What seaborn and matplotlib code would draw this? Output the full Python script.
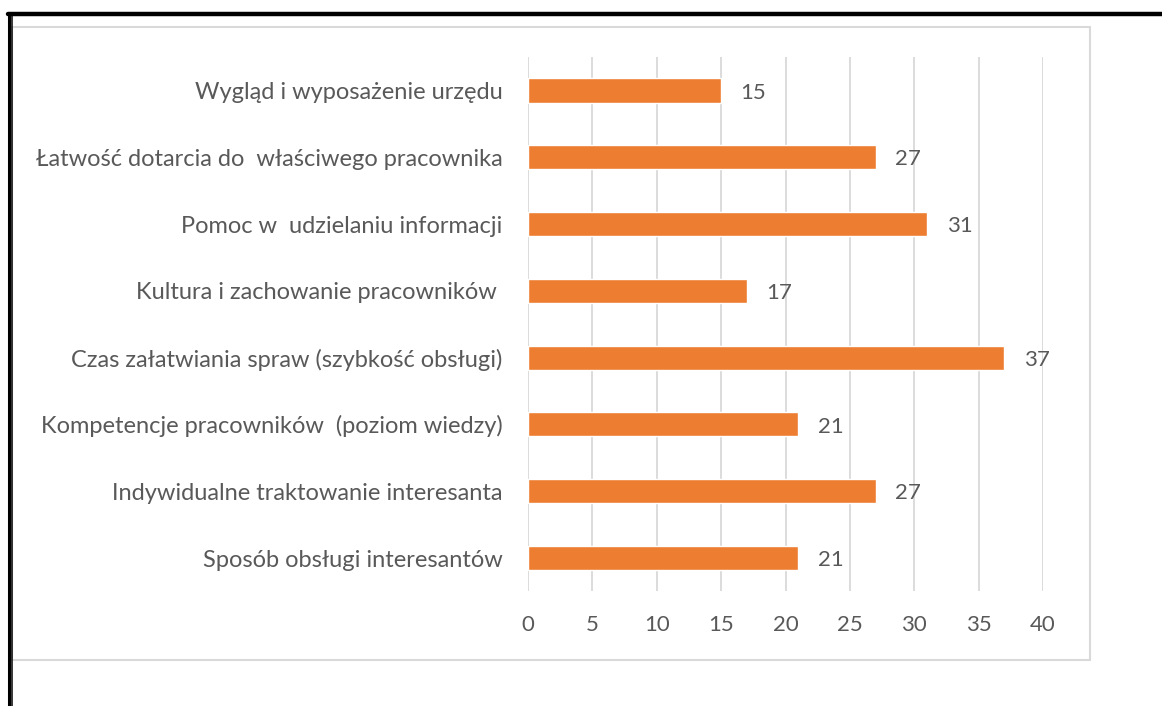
import matplotlib
matplotlib.use("Agg")
import matplotlib.pyplot as plt
import seaborn as sns
import pandas as pd
from matplotlib.patches import Rectangle
from matplotlib.lines import Line2D

categories = [
    "Wygląd i wyposażenie urzędu",
    "Łatwość dotarcia do  właściwego pracownika",
    "Pomoc w  udzielaniu informacji",
    "Kultura i zachowanie pracowników ",
    "Czas załatwiania spraw (szybkość obsługi)",
    "Kompetencje pracowników  (poziom wiedzy)",
    "Indywidualne traktowanie interesanta",
    "Sposób obsługi interesantów",
]
values = [15, 27, 31, 17, 37, 21, 27, 21]
xticks = [0, 5, 10, 15, 20, 25, 30, 35, 40]

df = pd.DataFrame({"cat": categories, "val": values})

sns.set_style("white")
plt.rcParams["font.family"] = ["Lato", "DejaVu Sans"]

W, H = 1162, 706
fig = plt.figure(figsize=(W / 100, H / 100), dpi=100)
ax = fig.add_axes([528 / W, 1 - 591.4 / H, (1043 - 528) / W, (591.4 - 57.1) / H])

sns.barplot(data=df, x="val", y="cat", orient="h", color="#ED7D31",
            width=0.36, saturation=1, ax=ax)

text_col = "#595959"
ax.set_xlim(0, 40)
ax.set_xticks(xticks)
ax.set_xticklabels([str(t) for t in xticks])
ax.xaxis.grid(True, color="#D9D9D9", linewidth=1.3)
ax.yaxis.grid(False)
ax.set_axisbelow(True)
for s in ax.spines.values():
    s.set_visible(False)
ax.set_xlabel("")
ax.set_ylabel("")
ax.tick_params(axis="x", length=0, pad=17, labelsize=16, labelcolor=text_col)
ax.tick_params(axis="y", length=0, pad=18.5, labelsize=17, labelcolor=text_col)

for c in ax.containers:
    texts = ax.bar_label(c, labels=[str(v) for v in values], padding=14,
                         fontsize=16, color=text_col)
    for t in texts:
        t.set_y(-1.5)

# chart area border (light gray)
fig.patches.append(Rectangle((12 / W, 1 - 660 / H), (1090 - 12) / W, (660 - 27) / H,
                             transform=fig.transFigure, fill=False,
                             edgecolor="#D9D9D9", linewidth=1.5))
# black page borders
fig.lines.append(Line2D([8 / W, 1], [1 - 14 / H, 1 - 14 / H], transform=fig.transFigure,
                        color="black", linewidth=3.2))
fig.lines.append(Line2D([9 / W, 9 / W], [0, 1 - 12.5 / H], transform=fig.transFigure,
                        color="black", linewidth=2.2))
fig.lines.append(Line2D([11.8 / W, 11.8 / W], [0, 1 - 16 / H], transform=fig.transFigure,
                        color="black", linewidth=1.1))

fig.savefig("out.png", dpi=100, facecolor="white")
